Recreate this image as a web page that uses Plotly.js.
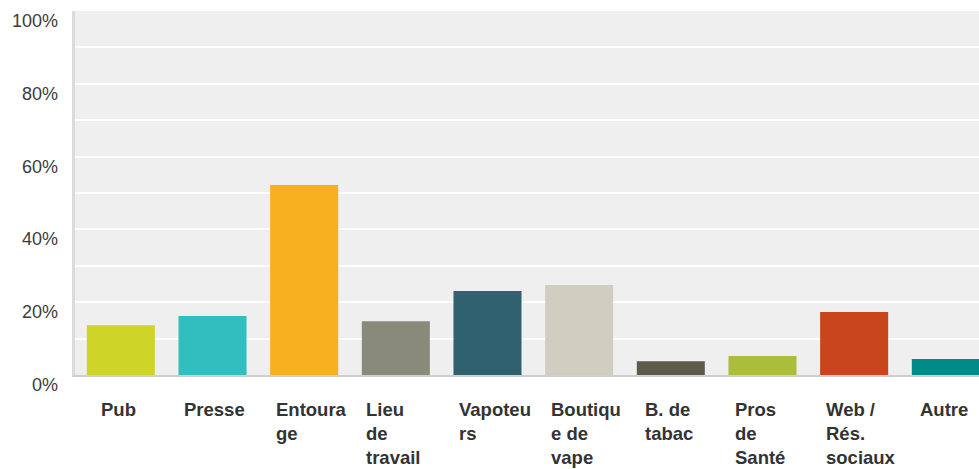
<!DOCTYPE html>
<html>
<head>
<meta charset="utf-8">
<script src="https://cdn.plot.ly/plotly-3.0.1.min.js"></script>
<style>html,body{margin:0;padding:0;background:#fff;}#chart{width:979px;height:469px;}</style>
</head>
<body>
<div id="chart"></div>
<script>
var categories = ["Pub", "Presse", "Entourage", "Lieu de travail", "Vapoteurs", "Boutique de vape", "B. de tabac", "Pros de Santé", "Web / Rés. sociaux", "Autre"];
var tickLabels = ["Pub", "Presse", "Entoura<br>ge", "Lieu<br>de<br>travail", "Vapoteu<br>rs", "Boutiqu<br>e de<br>vape", "B. de<br>tabac", "Pros<br>de<br>Santé", "Web /<br>Rés.<br>sociaux", "Autre"];
var values = [13.7, 16.2, 52.2, 14.8, 23.1, 24.7, 3.8, 5.2, 17.3, 4.4];
var colors = ["#cfd428", "#32bdbe", "#f7b01f", "#898a79", "#2f6170", "#d0cec0", "#5c5b4c", "#abbd3a", "#c9451c", "#008a8a"];
var yTickVals = [0, 20, 40, 60, 80, 100];
var yTickText = ["0%", "20%", "40%", "60%", "80%", "100%"];

var FONT = "'Liberation Sans', Arial, Helvetica, sans-serif";
var xRange = [-0.5, 9.362];
var plotW = 979 - 75;
var pxPerCat = plotW / (xRange[1] - xRange[0]);
var bargap = 0.258;
var barHalf = (1 - bargap) / 2;

var ctx = document.createElement('canvas').getContext('2d');
ctx.font = "bold 18.5px " + FONT;
function blockWidth(t) {
  return Math.max.apply(null, t.split('<br>').map(function (s) { return ctx.measureText(s).width; }));
}

var annotations = [];
tickLabels.forEach(function (t, i) {
  var w = blockWidth(t);
  var centerPx = -2;
  var leftPx = centerPx - w / 2;
  var minLeft = -barHalf * pxPerCat + 4;
  var a = {
    x: i, xref: 'x', y: 0, yref: 'paper', yanchor: 'top', yshift: -22,
    showarrow: false, align: 'left',
    font: {family: FONT, size: 18.5, color: '#333333'}
  };
  if (leftPx < minLeft) { a.xanchor = 'left'; a.xshift = minLeft; }
  else { a.xanchor = 'center'; a.xshift = centerPx; }
  a.text = '<b>' + t.split('<br>').join('</b><br><b>') + '</b>';
  annotations.push(a);
});
yTickVals.forEach(function (v, i) {
  annotations.push({
    x: 0, xref: 'paper', y: v, yref: 'y', xanchor: 'right', yanchor: 'middle',
    xshift: -15, yshift: -10, text: yTickText[i], showarrow: false,
    font: {family: FONT, size: 18, color: '#3c3c3c'}
  });
});

var trace = {
  type: 'bar',
  x: categories,
  y: values,
  marker: {color: colors, line: {width: 0}},
  hoverinfo: 'none'
};

var layout = {
  width: 979, height: 469,
  margin: {l: 75, r: 0, t: 11, b: 94, pad: 0},
  paper_bgcolor: '#ffffff',
  plot_bgcolor: '#efefef',
  bargap: bargap,
  showlegend: false,
  font: {family: FONT, size: 18, color: '#333'},
  xaxis: {
    type: 'category', range: xRange, showticklabels: false, ticks: '',
    showgrid: false, zeroline: false, fixedrange: true,
    showline: true, linecolor: '#d0d0d0', linewidth: 2, layer: 'below traces'
  },
  yaxis: {
    range: [0, 100], dtick: 10, showticklabels: false, ticks: '',
    showgrid: true, gridcolor: '#ffffff', gridwidth: 2, zeroline: false,
    showline: true, linecolor: '#dcdcdc', linewidth: 3, fixedrange: true
  },
  annotations: annotations
};

Plotly.newPlot('chart', [trace], layout, {displayModeBar: false, staticPlot: true});
</script>
</body>
</html>
